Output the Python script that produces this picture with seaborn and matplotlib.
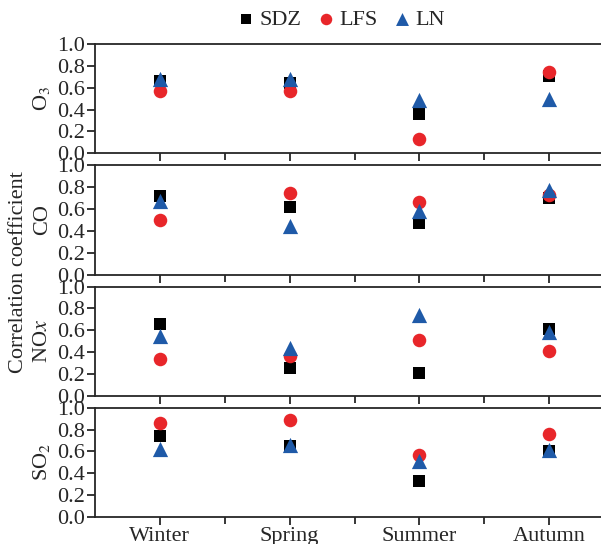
import matplotlib
matplotlib.use("Agg")
import matplotlib.pyplot as plt
import seaborn as sns
import pandas as pd
from matplotlib.ticker import FixedLocator

seasons = ["Winter", "Spring", "Summer", "Autumn"]
sites = ["SDZ", "LFS", "LN"]
pollutants = ["O3", "CO", "NOx", "SO2"]
ylabels = ["O$_3$", "CO", "NO$\\mathit{x}$", "SO$_2$"]

# correlation coefficients per pollutant, per site, per season
o3 = {"SDZ": [0.66, 0.64, 0.36, 0.71],
      "LFS": [0.57, 0.57, 0.13, 0.74],
      "LN": [0.68, 0.68, 0.49, 0.50]}
co = {"SDZ": [0.72, 0.62, 0.47, 0.70],
      "LFS": [0.50, 0.75, 0.66, 0.73],
      "LN": [0.67, 0.44, 0.58, 0.77]}
nox = {"SDZ": [0.66, 0.25, 0.21, 0.61],
       "LFS": [0.34, 0.36, 0.51, 0.41],
       "LN": [0.55, 0.44, 0.74, 0.58]}
so2 = {"SDZ": [0.74, 0.65, 0.33, 0.60],
       "LFS": [0.86, 0.89, 0.57, 0.76],
       "LN": [0.62, 0.66, 0.51, 0.61]}

rows = []
for pol, d in zip(pollutants, [o3, co, nox, so2]):
    for site in sites:
        for i, s in enumerate(seasons):
            rows.append({"pollutant": pol, "site": site, "season": s,
                         "x": i, "r": d[site][i]})
df = pd.DataFrame(rows)

sns.set_style("ticks")
plt.rcParams["font.family"] = ["Liberation Serif", "DejaVu Serif"]
plt.rcParams["mathtext.fontset"] = "stix"

palette = {"SDZ": "#000000", "LFS": "#e8262a", "LN": "#1f5aa8"}
markers = {"SDZ": "s", "LFS": "o", "LN": "^"}
sizes = {"SDZ": 70, "LFS": 95, "LN": 120}

fig = plt.figure(figsize=(6.01, 5.44), dpi=100)
left, right = 95 / 601, 614 / 601
top_px, bot_px, gap_px = 44, 517, 12
h_px = (bot_px - top_px - 3 * gap_px) / 4

axes = []
for k, pol in enumerate(pollutants):
    y0 = top_px + k * (h_px + gap_px)
    ax = fig.add_axes([left, 1 - (y0 + h_px) / 544, right - left, h_px / 544])
    sub = df[df["pollutant"] == pol]
    for site in sites:
        ss = sub[sub["site"] == site]
        sns.scatterplot(data=ss, x="x", y="r", ax=ax, color=palette[site],
                        marker=markers[site], s=sizes[site], linewidth=0,
                        label=site if k == 0 else None, legend=False, zorder=3)
    ax.set_xlim(-0.5, 3.5)
    ax.set_ylim(0, 1.0)
    ax.set_yticks([0, 0.2, 0.4, 0.6, 0.8, 1.0])
    ax.set_yticklabels(["0.0", "0.2", "0.4", "0.6", "0.8", "1.0"])
    ax.set_xticks(range(4))
    ax.xaxis.set_minor_locator(FixedLocator([0.5, 1.5, 2.5]))
    ax.tick_params(axis="both", which="major", labelsize=16, width=1.3,
                   length=6, pad=1)
    ax.tick_params(axis="x", which="minor", width=1.3, length=5)
    if k < 3:
        ax.set_xticklabels([])
    else:
        ax.set_xticklabels(seasons)
    ax.set_xlabel("")
    ax.set_ylabel(ylabels[k], fontsize=16, labelpad=4)
    for sp in ax.spines.values():
        sp.set_linewidth(1.3)
    axes.append(ax)

fig.text(0.03, 0.5, "Correlation coefficient", rotation=90, fontsize=16,
         ha="center", va="center")

handles, labels = axes[0].get_legend_handles_labels()
fig.legend(handles, labels, loc="center", bbox_to_anchor=(340 / 601, 1 - 20 / 544),
           ncol=3, frameon=False, fontsize=16, handletextpad=0.1,
           columnspacing=0.6, markerscale=0.85, handlelength=1.0)

fig.savefig("out.png", dpi=100)
